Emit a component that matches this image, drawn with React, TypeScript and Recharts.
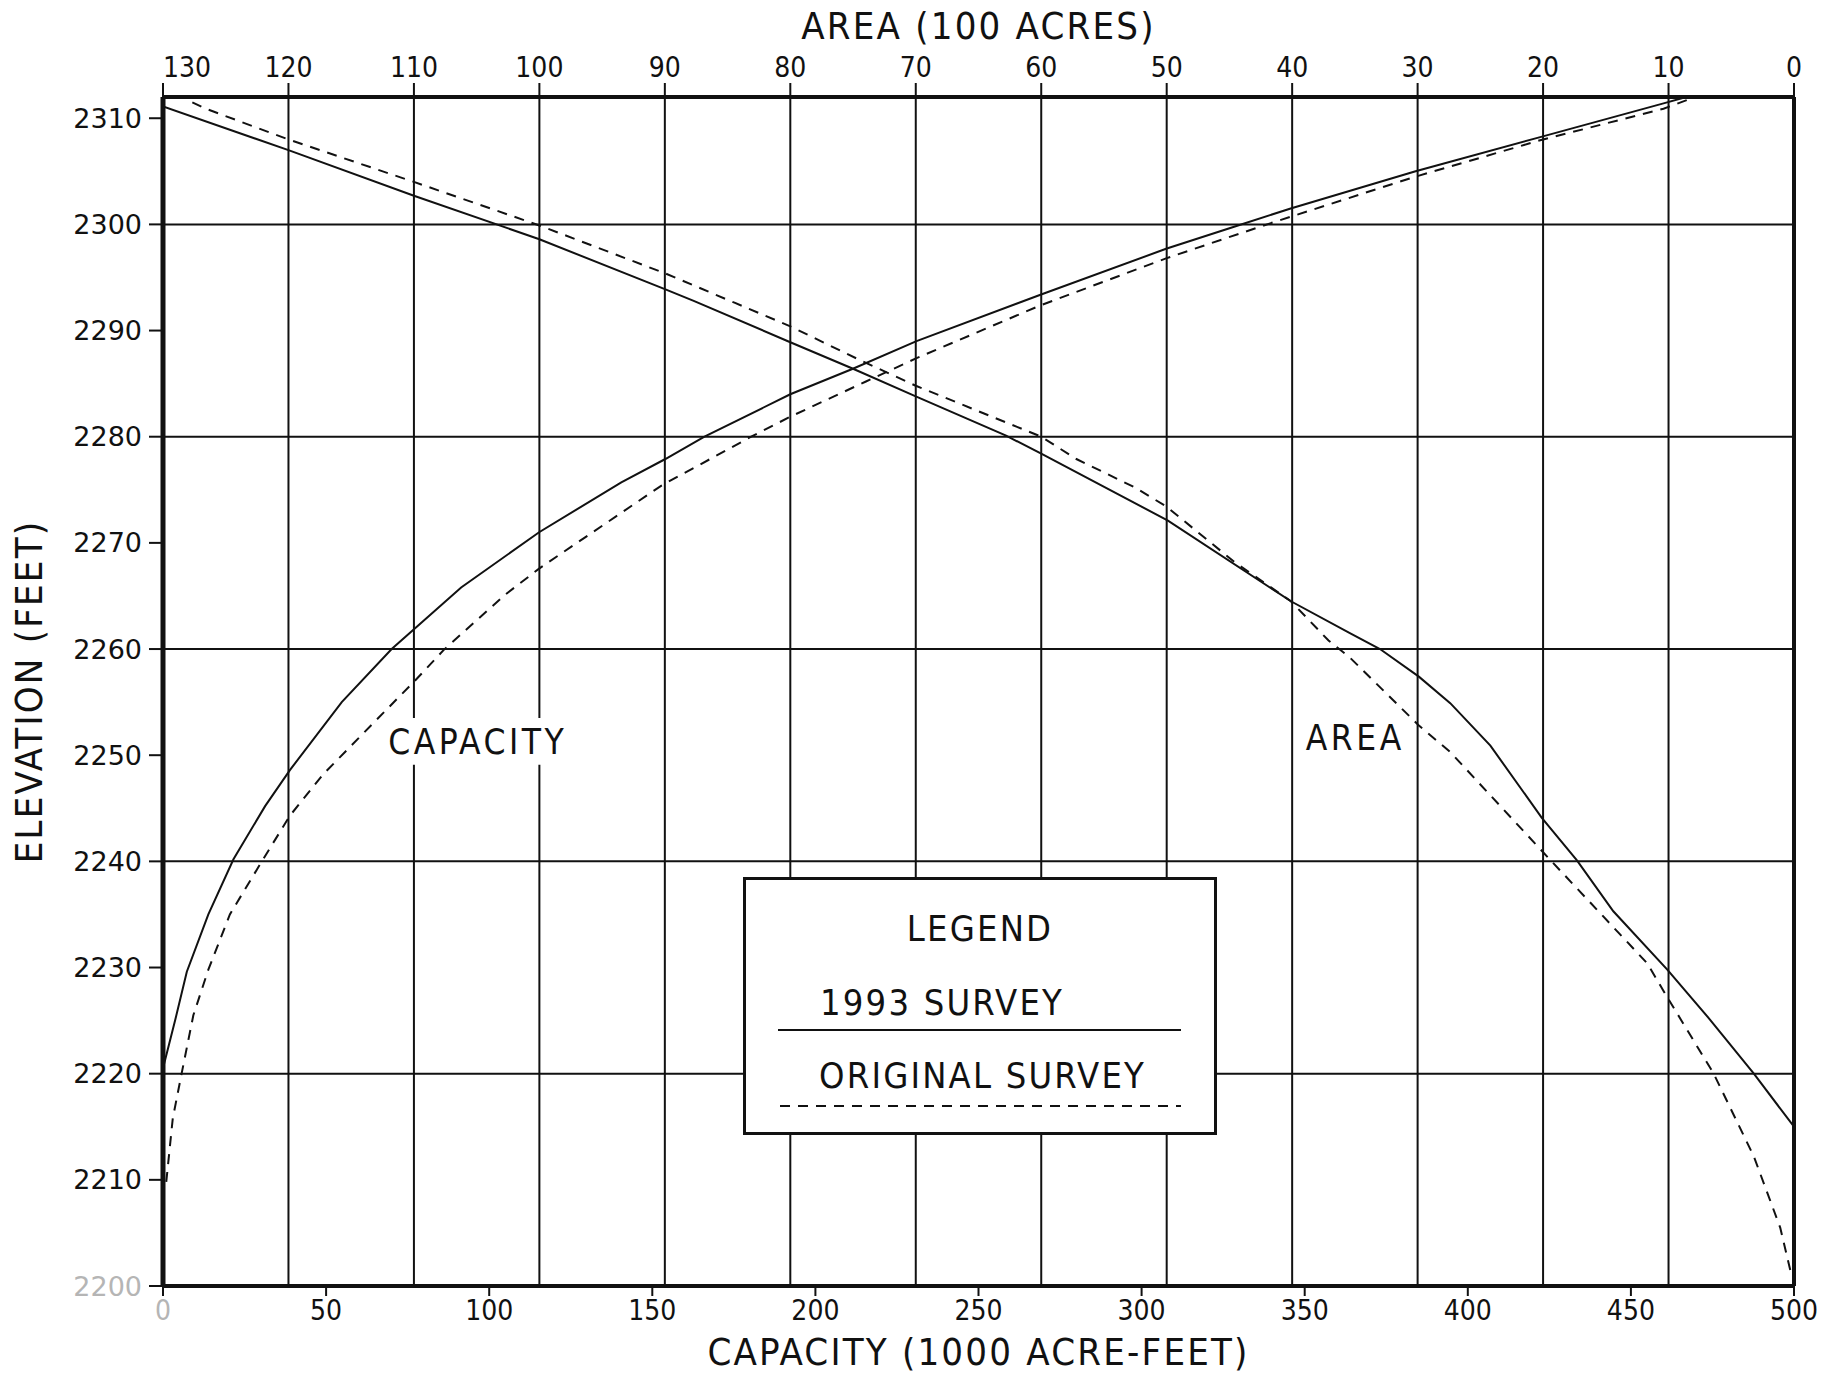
import {
  LineChart,
  Line,
  XAxis,
  YAxis,
  CartesianGrid,
  ReferenceLine,
  ReferenceArea,
  Legend,
} from "recharts";

// axes
const capTicks = [0, 50, 100, 150, 200, 250, 300, 350, 400, 450, 500];
const areaTicks = [0, 10, 20, 30, 40, 50, 60, 70, 80, 90, 100, 110, 120, 130];
const areaGrid = [10, 20, 30, 40, 50, 60, 70, 80, 90, 100, 110, 120];
const elevTicks = [2200, 2210, 2220, 2230, 2240, 2250, 2260, 2270, 2280, 2290, 2300, 2310];
const elevGrid = [2220, 2240, 2260, 2280, 2300];

// capacity curves (1000 acre-feet vs elevation)
const capacity1993 = [
  { cap: 0, elev: 2220.5 },
  { cap: 3.7, elev: 2225 },
  { cap: 7.3, elev: 2229.6 },
  { cap: 13.9, elev: 2235 },
  { cap: 21.6, elev: 2240.2 },
  { cap: 31.3, elev: 2245.2 },
  { cap: 38.9, elev: 2248.6 },
  { cap: 54.8, elev: 2255 },
  { cap: 70.1, elev: 2260 },
  { cap: 91.4, elev: 2265.8 },
  { cap: 115.3, elev: 2271 },
  { cap: 140.5, elev: 2275.7 },
  { cap: 154, elev: 2277.9 },
  { cap: 166, elev: 2280 },
  { cap: 192.3, elev: 2284 },
  { cap: 211.5, elev: 2286.4 },
  { cap: 231, elev: 2289 },
  { cap: 269.2, elev: 2293.4 },
  { cap: 307.5, elev: 2297.7 },
  { cap: 328.6, elev: 2299.8 },
  { cap: 345.7, elev: 2301.5 },
  { cap: 384, elev: 2305 },
  { cap: 421.9, elev: 2308.2 },
  { cap: 460, elev: 2311.4 },
  { cap: 467, elev: 2312 },
];

const capacityOriginal = [
  { cap: 1, elev: 2209.8 },
  { cap: 3, elev: 2215.8 },
  { cap: 5.7, elev: 2220 },
  { cap: 9.3, elev: 2225.5 },
  { cap: 13.9, elev: 2229.8 },
  { cap: 20.5, elev: 2235 },
  { cap: 30.3, elev: 2240 },
  { cap: 38.9, elev: 2244.3 },
  { cap: 49.1, elev: 2248.2 },
  { cap: 77.8, elev: 2257.2 },
  { cap: 86, elev: 2259.9 },
  { cap: 104.8, elev: 2265.1 },
  { cap: 115.4, elev: 2267.6 },
  { cap: 152.8, elev: 2275.4 },
  { cap: 180.3, elev: 2280 },
  { cap: 192.4, elev: 2281.9 },
  { cap: 215.5, elev: 2285.2 },
  { cap: 231, elev: 2287.4 },
  { cap: 269.2, elev: 2292.4 },
  { cap: 307.5, elev: 2296.8 },
  { cap: 339.4, elev: 2300.1 },
  { cap: 384, elev: 2304.5 },
  { cap: 421.9, elev: 2307.9 },
  { cap: 460, elev: 2310.9 },
  { cap: 468, elev: 2311.8 },
];

// area curves (100 acres vs elevation)
const area1993 = [
  { area: 0, elev: 2215 },
  { area: 3.2, elev: 2220 },
  { area: 6.7, elev: 2225.1 },
  { area: 10.1, elev: 2229.8 },
  { area: 14.4, elev: 2235.3 },
  { area: 17.3, elev: 2240.1 },
  { area: 20.1, elev: 2244.1 },
  { area: 24.2, elev: 2250.9 },
  { area: 27.4, elev: 2254.9 },
  { area: 29.9, elev: 2257.4 },
  { area: 33, elev: 2260 },
  { area: 35.4, elev: 2261.5 },
  { area: 40.1, elev: 2264.5 },
  { area: 49.9, elev: 2272.1 },
  { area: 60, elev: 2278.4 },
  { area: 62.8, elev: 2280.1 },
  { area: 70, elev: 2283.8 },
  { area: 75, elev: 2286.4 },
  { area: 80, elev: 2288.9 },
  { area: 87.7, elev: 2292.8 },
  { area: 90, elev: 2293.9 },
  { area: 100, elev: 2298.6 },
  { area: 110, elev: 2302.7 },
  { area: 120, elev: 2307 },
  { area: 130, elev: 2311.1 },
];

const areaOriginal = [
  { area: 0.3, elev: 2201.5 },
  { area: 1.1, elev: 2205.5 },
  { area: 3.2, elev: 2212.2 },
  { area: 6.4, elev: 2220 },
  { area: 10.1, elev: 2227.2 },
  { area: 11.7, elev: 2230.4 },
  { area: 14.4, elev: 2233.8 },
  { area: 19.4, elev: 2240.1 },
  { area: 27.4, elev: 2250.3 },
  { area: 29.9, elev: 2252.8 },
  { area: 35.4, elev: 2259.2 },
  { area: 37.1, elev: 2260.8 },
  { area: 40.1, elev: 2264.5 },
  { area: 44.6, elev: 2268.2 },
  { area: 50, elev: 2273.4 },
  { area: 52.5, elev: 2275.2 },
  { area: 57.2, elev: 2277.9 },
  { area: 60, elev: 2280 },
  { area: 70, elev: 2284.8 },
  { area: 74.6, elev: 2287.3 },
  { area: 80, elev: 2290.4 },
  { area: 84.4, elev: 2292.6 },
  { area: 90, elev: 2295.4 },
  { area: 100, elev: 2299.9 },
  { area: 110, elev: 2304 },
  { area: 120, elev: 2308 },
  { area: 126.6, elev: 2310.9 },
  { area: 128.2, elev: 2311.8 },
];

const INK = "#111";
const FONT = "'DejaVu Sans Condensed', 'DejaVu Sans', sans-serif";
const DASH = "10 8";

function LeftTick({ x, y, payload }: any) {
  return (
    <text
      x={x}
      y={y}
      textAnchor="end"
      dominantBaseline="central"
      fontFamily="'DejaVu Sans', sans-serif"
      fontSize={27}
      fill={payload.value === 2200 ? "#b5b5b5" : INK}
    >
      {payload.value}
    </text>
  );
}

function TopTick({ x, y, payload }: any) {
  return (
    <text
      x={x}
      y={y}
      textAnchor={payload.value === 130 ? "start" : "middle"}
      fontFamily={FONT}
      fontSize={28}
      fill={INK}
    >
      {payload.value}
    </text>
  );
}

function BottomTick({ x, y, payload }: any) {
  return (
    <text
      x={x}
      y={y + 22}
      textAnchor="middle"
      fontFamily={FONT}
      fontSize={28}
      fill={payload.value === 0 ? "#b5b5b5" : INK}
    >
      {payload.value}
    </text>
  );
}

const titleStyle = { fontFamily: FONT, fontSize: 38, fill: INK, letterSpacing: 2.2 };

function TopTitle({ viewBox }: any) {
  return (
    <text x={viewBox.x + viewBox.width / 2} y={viewBox.y + 26} textAnchor="middle" dominantBaseline="central" {...titleStyle}>
      AREA (100 ACRES)
    </text>
  );
}

function BottomTitle({ viewBox }: any) {
  return (
    <text x={viewBox.x + viewBox.width / 2} y={viewBox.y + 66} textAnchor="middle" dominantBaseline="central" {...titleStyle}>
      CAPACITY (1000 ACRE-FEET)
    </text>
  );
}

function LeftTitle({ viewBox }: any) {
  const cx = viewBox.x + 29;
  const cy = viewBox.y + viewBox.height / 2;
  return (
    <text x={cx} y={cy} transform={`rotate(-90 ${cx} ${cy})`} textAnchor="middle" dominantBaseline="central" {...titleStyle}>
      ELEVATION (FEET)
    </text>
  );
}

function LegendBox() {
  const t = { fontFamily: FONT, fontSize: 36, fill: INK, letterSpacing: 2.2 };
  return (
    <svg width={474} height={258} style={{ display: "block" }}>
      <rect x={1.5} y={1.5} width={471} height={255} fill="#fff" stroke={INK} strokeWidth={3} />
      <text x={237} y={64} textAnchor="middle" {...t}>LEGEND</text>
      <text x={77} y={138} {...t}>1993 SURVEY</text>
      <line x1={35} x2={438} y1={153} y2={153} stroke={INK} strokeWidth={2} />
      <text x={76} y={211} {...t}>ORIGINAL SURVEY</text>
      <line x1={37} x2={438} y1={229} y2={229} stroke={INK} strokeWidth={2} strokeDasharray={DASH} />
    </svg>
  );
}

const markLabel = { position: "center" as const, fill: INK, fontFamily: FONT, fontSize: 35, letterSpacing: 3.5 };

export default function App() {
  return (
    <div style={{ position: "absolute", left: 0, top: 0, width: 1821, height: 1373, background: "#fff" }}>
      <LineChart width={1821} height={1373} margin={{ top: 0, right: 27, bottom: 0, left: 0 }}>
        <CartesianGrid
          xAxisId="area"
          verticalValues={areaGrid}
          horizontalValues={elevGrid}
          stroke={INK}
          strokeWidth={2}
        />
        <XAxis
          xAxisId="cap"
          dataKey="cap"
          type="number"
          orientation="bottom"
          domain={[0, 500]}
          ticks={capTicks}
          allowDataOverflow
          height={87}
          tickSize={10}
          tickMargin={2}
          axisLine={{ stroke: INK, strokeWidth: 4 }}
          tickLine={{ stroke: INK, strokeWidth: 2 }}
          tick={<BottomTick />}
          label={{ content: BottomTitle }}
        />
        <XAxis
          xAxisId="area"
          dataKey="area"
          type="number"
          orientation="top"
          reversed
          domain={[0, 130]}
          ticks={areaTicks}
          allowDataOverflow
          height={97}
          tickSize={14}
          tickMargin={6}
          axisLine={{ stroke: INK, strokeWidth: 4 }}
          tickLine={{ stroke: INK, strokeWidth: 2 }}
          tick={<TopTick />}
          label={{ content: TopTitle }}
        />
        <YAxis
          type="number"
          domain={[2200, 2312]}
          ticks={elevTicks}
          allowDataOverflow
          width={163}
          tickSize={14}
          tickMargin={7}
          axisLine={{ stroke: INK, strokeWidth: 5 }}
          tickLine={{ stroke: INK, strokeWidth: 2 }}
          tick={<LeftTick />}
          label={{ content: LeftTitle }}
        />
        <ReferenceLine xAxisId="cap" x={500} stroke={INK} strokeWidth={4} />

        <ReferenceArea
          xAxisId="cap"
          x1={64}
          x2={129}
          y1={2249.1}
          y2={2253.5}
          fill="#fff"
          fillOpacity={1}
          stroke="none"
          label={{ value: "CAPACITY", ...markLabel }}
        />
        <ReferenceArea
          xAxisId="cap"
          x1={350}
          x2={381}
          y1={2249.6}
          y2={2253.8}
          fill="#fff"
          fillOpacity={1}
          stroke="none"
          label={{ value: "AREA", ...markLabel }}
        />

        <Line xAxisId="cap" data={capacity1993} dataKey="elev" type="linear" stroke={INK} strokeWidth={2} dot={false} isAnimationActive={false} />
        <Line xAxisId="cap" data={capacityOriginal} dataKey="elev" type="linear" stroke={INK} strokeWidth={2} strokeDasharray={DASH} dot={false} isAnimationActive={false} />
        <Line xAxisId="area" data={area1993} dataKey="elev" type="linear" stroke={INK} strokeWidth={2} dot={false} isAnimationActive={false} />
        <Line xAxisId="area" data={areaOriginal} dataKey="elev" type="linear" stroke={INK} strokeWidth={2} strokeDasharray={DASH} dot={false} isAnimationActive={false} />

        <Legend
          verticalAlign="middle"
          align="center"
          layout="horizontal"
          content={LegendBox}
          wrapperStyle={{ left: 743, top: 877, width: 474, height: 258 }}
        />
      </LineChart>
    </div>
  );
}
